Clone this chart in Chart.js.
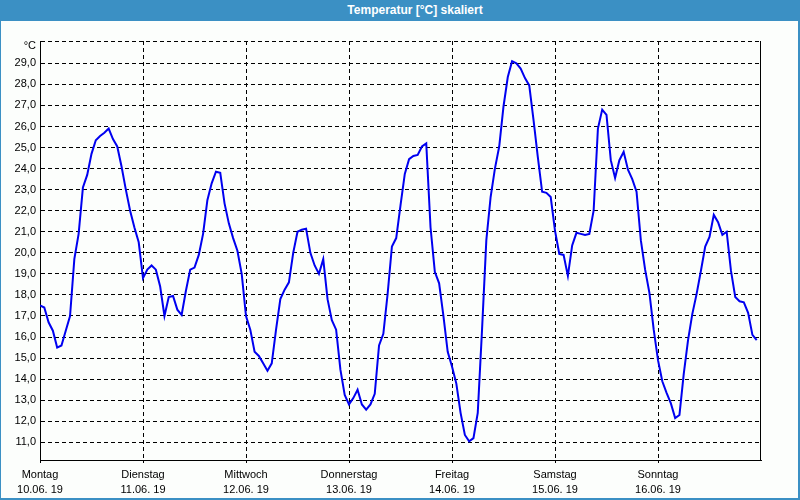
<!DOCTYPE html>
<html>
<head>
<meta charset="utf-8">
<script src="https://cdn.jsdelivr.net/npm/chart.js@4"></script>
<style>
  html, body { margin: 0; padding: 0; background: #fcfefc; }
  #wrap { position: relative; width: 800px; height: 500px; overflow: hidden; background: #fcfefc; }
  #title { position: absolute; left: 0; top: 0; width: 800px; height: 21px; background: #3b90c4;
           color: #fff; font: bold 12px "Liberation Sans", Arial, sans-serif; line-height: 20px;
           text-align: center; box-sizing: border-box; padding-left: 30px; }
  #frame { position: absolute; left: 0; top: 0; width: 800px; height: 500px; box-sizing: border-box;
           border-left: 1px solid #3b90c4; border-right: 2px solid #3b90c4; border-bottom: 2px solid #3b90c4;
           pointer-events: none; }
  canvas { position: absolute; left: 0; top: 0; }
</style>
</head>
<body>
<div id="wrap">
  <div id="title">Temperatur [°C] skaliert</div>
  <canvas id="c" width="800" height="500"></canvas>
  <div id="frame"></div>
</div>
<script>
// Day labels (tick labels of the x axis, one per day start)
const dayNames = ['Montag', 'Dienstag', 'Mittwoch', 'Donnerstag', 'Freitag', 'Samstag', 'Sonntag'];
const dayDates = ['10.06. 19', '11.06. 19', '12.06. 19', '13.06. 19', '14.06. 19', '15.06. 19', '16.06. 19'];
const dayStartHours = [0, 24, 48, 72, 96, 120, 144];

// Y tick values (top one carries the unit label)
const yTickValues = [11, 12, 13, 14, 15, 16, 17, 18, 19, 20, 21, 22, 23, 24, 25, 26, 27, 28, 29];
const yMin = 10.16;
const yMax = 30.06;
const unitLabel = '°C';

// Hourly temperatures, Monday 00:00 .. Sunday 23:00
const temps = [
  17.5,17.4,16.7,16.3,15.5,15.6,16.3,17.0,19.7,20.9,23.1,23.7,24.7,25.35,25.55,25.7,25.9,25.4,25.05,24.1,23.0,22.0,21.2,20.5,
  18.8,19.2,19.4,19.2,18.4,17.0,17.9,17.95,17.3,17.05,18.2,19.2,19.3,19.9,20.9,22.5,23.3,23.85,23.8,22.35,21.4,20.7,20.1,19.0,
  17.0,16.35,15.3,15.1,14.75,14.4,14.75,16.35,17.8,18.25,18.6,20.0,21.0,21.1,21.15,20.0,19.4,19.0,19.7,17.8,16.8,16.35,14.45,13.25,
  12.8,13.1,13.5,12.8,12.55,12.8,13.3,15.6,16.15,18.05,20.3,20.7,22.25,23.75,24.45,24.6,24.65,25.05,25.2,21.2,19.1,18.55,17.0,15.3,
  14.6,13.8,12.4,11.35,11.05,11.2,12.4,16.35,20.6,22.65,24.0,25.05,26.95,28.35,29.1,29.0,28.75,28.3,27.95,26.3,24.55,22.9,22.85,22.65,
  21.05,19.95,19.9,18.9,20.35,20.95,20.9,20.85,20.9,22.0,25.9,26.8,26.55,24.4,23.55,24.4,24.8,23.95,23.5,22.9,20.6,19.2,18.1,16.35,
  14.9,13.9,13.35,12.85,12.15,12.3,14.25,15.85,17.1,18.05,19.15,20.3,20.75,21.8,21.45,20.85,21.0,19.15,17.9,17.7,17.65,17.15,16.1,15.85
];

const points = temps.map((v, i) => ({ x: i, y: v }));

Chart.defaults.font.family = '"Liberation Sans", Arial, sans-serif';
Chart.defaults.color = '#000';

const rightBorder = {
  id: 'rightBorder',
  beforeDatasetsDraw(chart) {
    const a = chart.chartArea, ctx = chart.ctx;
    ctx.save();
    ctx.strokeStyle = '#000';
    ctx.lineWidth = 1;
    ctx.beginPath();
    ctx.moveTo(Math.round(a.right) - 0.5, a.top);
    ctx.lineTo(Math.round(a.right) - 0.5, a.bottom + 1);
    ctx.stroke();
    ctx.restore();
  }
};

new Chart(document.getElementById('c'), {
  type: 'line',
  data: {
    datasets: [{
      data: points,
      borderColor: '#0000f0',
      borderWidth: 2,
      pointRadius: 0,
      tension: 0,
      fill: false
    }]
  },
  options: {
    responsive: false,
    animation: false,
    layout: { padding: { left: 0, right: 39, top: 41, bottom: 0 } },
    plugins: { legend: { display: false }, tooltip: { enabled: false }, title: { display: false } },
    scales: {
      x: {
        type: 'linear',
        min: 0,
        max: 168,
        afterBuildTicks(s) { s.ticks = dayStartHours.map(v => ({ value: v })); },
        afterFit(s) { s.height = 40; },
        ticks: {
          autoSkip: false,
          maxRotation: 0,
          padding: 4,
          color: '#000',
          font: { size: 11, lineHeight: '15px' },
          callback(v) {
            const i = dayStartHours.indexOf(v);
            return i >= 0 ? [dayNames[i], dayDates[i]] : '';
          }
        },
        grid: { color: '#000', lineWidth: 1, drawTicks: true, tickLength: 3, tickColor: '#000' },
        border: { display: true, color: '#000', width: 1, dash: [4, 3] }
      },
      y: {
        type: 'linear',
        min: yMin,
        max: yMax,
        afterBuildTicks(s) { s.ticks = yTickValues.concat([yMax]).map(v => ({ value: v })); },
        afterFit(s) { s.width = 40; },
        ticks: {
          autoSkip: false,
          padding: 4,
          color: '#000',
          font: { size: 11, lineHeight: '10px' },
          callback(v) {
            if (v > 29.5) return ['', unitLabel];
            return v.toFixed(1).replace('.', ',');
          }
        },
        grid: { color: '#000', lineWidth: 1, drawTicks: false },
        border: { display: true, color: '#000', width: 1, dash: [4, 3] }
      }
    }
  },
  plugins: [rightBorder]
});
</script>
</body>
</html>
